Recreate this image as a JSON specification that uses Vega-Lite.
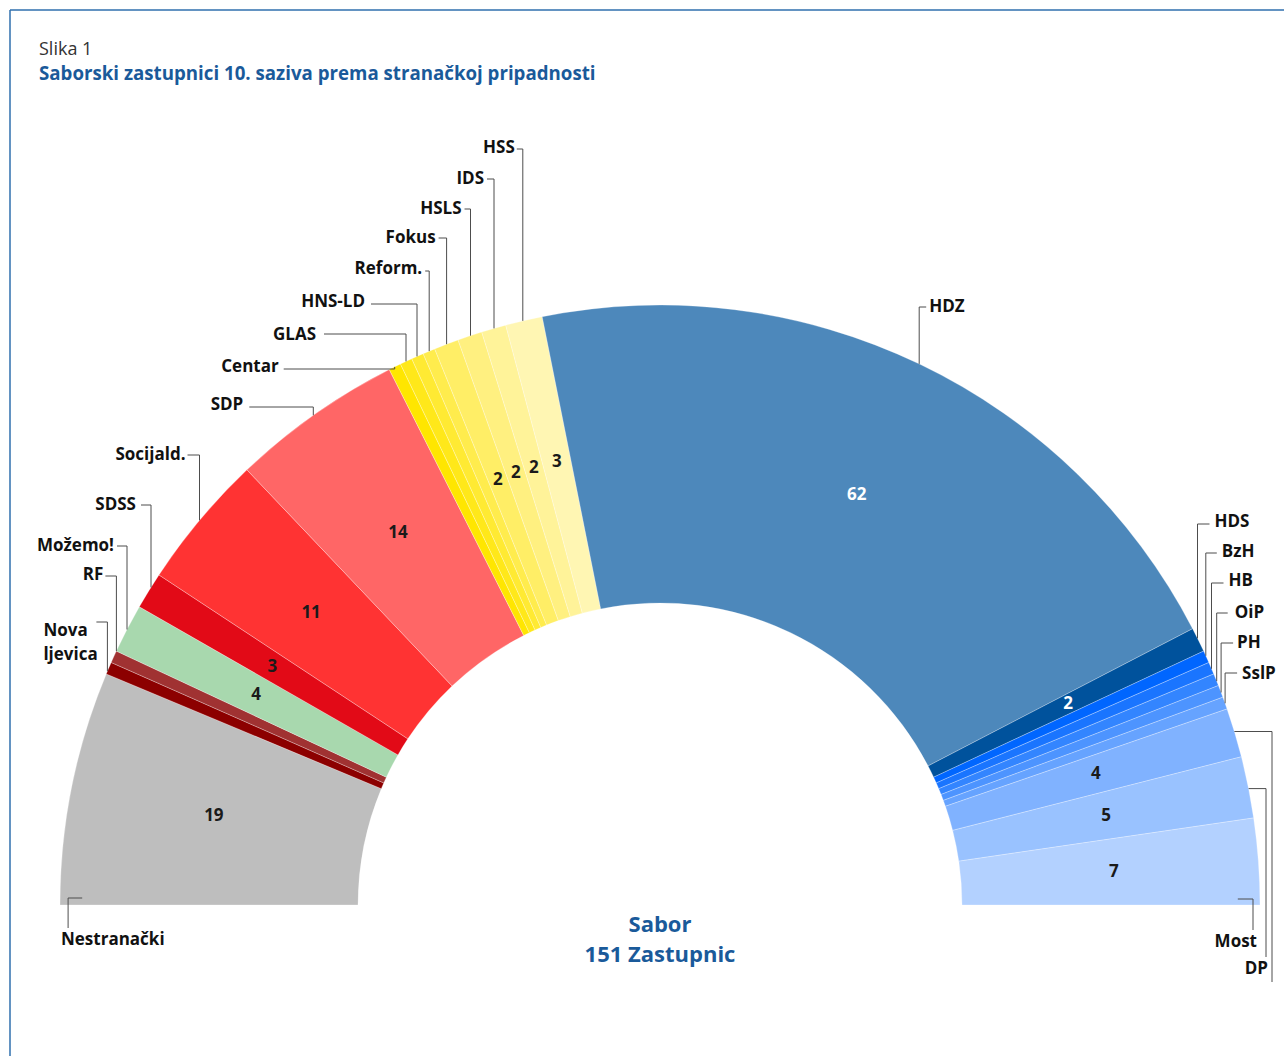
{
  "$schema": "https://vega.github.io/schema/vega-lite/v6.json",
  "width": 1284,
  "height": 1056,
  "autosize": {"type": "none"},
  "padding": 0,
  "background": "white",
  "config": {"view": {"stroke": null}, "font": "Open Sans"},
  "title": {
    "text": "Slika 1",
    "subtitle": "Saborski zastupnici 10. saziva prema stranačkoj pripadnosti",
    "anchor": "start",
    "frame": "group",
    "orient": "top",
    "offset": 0,
    "dx": 39,
    "dy": 84,
    "font": "Open Sans",
    "fontSize": 18,
    "fontWeight": "normal",
    "color": "#333333",
    "subtitleFont": "Open Sans",
    "subtitleFontSize": 18.7,
    "subtitleFontWeight": "bold",
    "subtitleColor": "#1a5a9a",
    "subtitlePadding": 6
  },
  "datasets": {
    "seats": [
      {"idx": 1, "party": "Nestranački", "seats": 19},
      {"idx": 2, "party": "Nova ljevica", "seats": 1},
      {"idx": 3, "party": "RF", "seats": 1},
      {"idx": 4, "party": "Možemo!", "seats": 4},
      {"idx": 5, "party": "SDSS", "seats": 3},
      {"idx": 6, "party": "Socijald.", "seats": 11},
      {"idx": 7, "party": "SDP", "seats": 14},
      {"idx": 8, "party": "Centar", "seats": 1},
      {"idx": 9, "party": "GLAS", "seats": 1},
      {"idx": 10, "party": "HNS-LD", "seats": 1},
      {"idx": 11, "party": "Reform.", "seats": 1},
      {"idx": 12, "party": "Fokus", "seats": 2},
      {"idx": 13, "party": "HSLS", "seats": 2},
      {"idx": 14, "party": "IDS", "seats": 2},
      {"idx": 15, "party": "HSS", "seats": 3},
      {"idx": 16, "party": "HDZ", "seats": 62},
      {"idx": 17, "party": "HDS", "seats": 2},
      {"idx": 18, "party": "BzH", "seats": 1},
      {"idx": 19, "party": "HB", "seats": 1},
      {"idx": 20, "party": "OiP", "seats": 1},
      {"idx": 21, "party": "PH", "seats": 1},
      {"idx": 22, "party": "SslP", "seats": 1},
      {"idx": 23, "party": "Ostali", "seats": 4},
      {"idx": 24, "party": "DP", "seats": 5},
      {"idx": 25, "party": "Most", "seats": 7}
    ],
    "leaders": [
      {"name": "Socijald.", "align": "right", "tx": -474.5, "ty": 450, "x1": -472.5, "y1": 450, "x2": -460.5, "y2": 450, "x3": -460.5, "y3": 384.6},
      {"name": "SDSS", "align": "right", "tx": -524, "ty": 400, "x1": -519, "y1": 400, "x2": -509, "y2": 400, "x3": -509, "y3": 317.6},
      {"name": "Možemo!", "align": "right", "tx": -546, "ty": 359, "x1": -543, "y1": 359, "x2": -533, "y2": 359, "x3": -533, "y3": 275.5},
      {"name": "RF", "align": "right", "tx": -556.6, "ty": 330, "x1": -554.6, "y1": 329, "x2": -543.6, "y2": 329, "x3": -543.6, "y3": 253.9},
      {"name": "Nova\nljevica", "align": "left", "tx": -616.6, "ty": 274, "x1": -563.6, "y1": 283, "x2": -552.6, "y2": 283, "x3": -552.6, "y3": 233.8},
      {"name": "SDP", "align": "right", "tx": -416.7, "ty": 500, "x1": -410.7, "y1": 498, "x2": -346.7, "y2": 498, "x3": -346.7, "y3": 489.7},
      {"name": "Centar", "align": "right", "tx": -381.3, "ty": 538, "x1": -376.3, "y1": 536, "x2": -265.3, "y2": 536, "x3": -265.3, "y3": 538.1},
      {"name": "GLAS", "align": "right", "tx": -344, "ty": 570, "x1": -336, "y1": 571, "x2": -254, "y2": 571, "x3": -254, "y3": 543.6},
      {"name": "HNS-LD", "align": "right", "tx": -295, "ty": 603, "x1": -289, "y1": 601, "x2": -243, "y2": 601, "x3": -243, "y3": 548.6},
      {"name": "Reform.", "align": "right", "tx": -237.8, "ty": 636, "x1": -234.8, "y1": 634, "x2": -230.8, "y2": 634, "x3": -230.8, "y3": 553.9},
      {"name": "Fokus", "align": "right", "tx": -224.4, "ty": 667, "x1": -221.4, "y1": 667, "x2": -213.4, "y2": 667, "x3": -213.4, "y3": 560.8},
      {"name": "HSLS", "align": "right", "tx": -198.5, "ty": 696, "x1": -195.5, "y1": 696, "x2": -189.5, "y2": 696, "x3": -189.5, "y3": 569.3},
      {"name": "IDS", "align": "right", "tx": -176, "ty": 726, "x1": -173, "y1": 726, "x2": -166, "y2": 726, "x3": -166, "y3": 576.6},
      {"name": "HSS", "align": "right", "tx": -145.2, "ty": 757, "x1": -143.2, "y1": 756, "x2": -137.2, "y2": 756, "x3": -137.2, "y3": 584.1},
      {"name": "HDZ", "align": "left", "tx": 269.2, "ty": 598, "x1": 266.2, "y1": 598, "x2": 259.2, "y2": 598, "x3": 259.2, "y3": 541.1},
      {"name": "HDS", "align": "left", "tx": 554.5, "ty": 383, "x1": 549.5, "y1": 381, "x2": 537.5, "y2": 381, "x3": 537.5, "y3": 266.6},
      {"name": "BzH", "align": "left", "tx": 561.8, "ty": 353, "x1": 556.8, "y1": 352, "x2": 545.8, "y2": 352, "x3": 545.8, "y3": 249.2},
      {"name": "HB", "align": "left", "tx": 568.5, "ty": 324, "x1": 563.5, "y1": 322, "x2": 551.5, "y2": 322, "x3": 551.5, "y3": 236.2},
      {"name": "OiP", "align": "left", "tx": 574.7, "ty": 292, "x1": 567.7, "y1": 292, "x2": 556.7, "y2": 292, "x3": 556.7, "y3": 223.8},
      {"name": "PH", "align": "left", "tx": 577.1, "ty": 262, "x1": 573.1, "y1": 262, "x2": 561.1, "y2": 262, "x3": 561.1, "y3": 212.5},
      {"name": "SslP", "align": "left", "tx": 582.1, "ty": 231, "x1": 577.1, "y1": 232, "x2": 565.1, "y2": 232, "x3": 565.1, "y3": 201.7},
      {"name": "", "align": "none", "tx": 612, "ty": -90, "x1": 612, "y1": -77, "x2": 612, "y2": 173.5, "x3": 574.4, "y3": 173.5},
      {"name": "DP", "align": "right", "tx": 608, "ty": -64, "x1": 606, "y1": -52, "x2": 606, "y2": 116.4, "x3": 588.6, "y3": 116.4},
      {"name": "Most", "align": "right", "tx": 597, "ty": -37, "x1": 593, "y1": -25, "x2": 593, "y2": 6, "x3": 577.8, "y3": 6},
      {"name": "Nestranački", "align": "left", "tx": -599, "ty": -35, "x1": -591.9, "y1": -23, "x2": -591.9, "y2": 7, "x3": -577.8, "y3": 7}
    ]
  },
  "layer": [
    {
      "data": {"values": [{}]},
      "mark": {"type": "rule", "color": "#2f6fae", "strokeWidth": 1.5},
      "encoding": {
        "x": {"datum": -650, "type": "quantitative", "scale": {"domain": [-660, 624], "nice": false, "zero": false}, "axis": null},
        "x2": {"datum": 624},
        "y": {"datum": 895, "type": "quantitative", "scale": {"domain": [-151, 905], "nice": false, "zero": false}, "axis": null}
      }
    },
    {
      "data": {"values": [{}]},
      "mark": {"type": "rule", "color": "#2f6fae", "strokeWidth": 1.5},
      "encoding": {
        "x": {"datum": -650, "type": "quantitative", "scale": {"domain": [-660, 624], "nice": false, "zero": false}, "axis": null},
        "y": {"datum": 895, "type": "quantitative", "scale": {"domain": [-151, 905], "nice": false, "zero": false}, "axis": null},
        "y2": {"datum": -151}
      }
    },
    {
      "data": {"name": "seats"},
      "mark": {"type": "arc", "outerRadius": 600, "innerRadius": 302, "x": {"expr": "scale('x', 0)"}, "y": {"expr": "scale('y', 0)"}, "stroke": "#ffffff", "strokeWidth": 0.4, "strokeOpacity": 0.7},
      "encoding": {
        "theta": {"field": "seats", "type": "quantitative", "stack": true, "scale": {"range": [-1.5707963, 1.5707963]}},
        "order": {"field": "idx", "type": "quantitative"},
        "color": {
          "field": "party",
          "type": "nominal",
          "legend": null,
          "scale": {
            "domain": ["Nestranački", "Nova ljevica", "RF", "Možemo!", "SDSS", "Socijald.", "SDP", "Centar", "GLAS", "HNS-LD", "Reform.", "Fokus", "HSLS", "IDS", "HSS", "HDZ", "HDS", "BzH", "HB", "OiP", "PH", "SslP", "Ostali", "DP", "Most"],
            "range": ["#bebebe", "#8c0000", "#a03232", "#a8d8ae", "#e20a17", "#ff3333", "#ff6666", "#ffe600", "#ffe81a", "#ffea33", "#ffec4d", "#ffee66", "#fff080", "#fff399", "#fff6b3", "#4d88bb", "#00529c", "#0066ff", "#1a75ff", "#3385ff", "#4d94ff", "#66a3ff", "#80b2ff", "#99c2ff", "#b3d1ff"]
          }
        }
      }
    },
    {
      "data": {"name": "seats"},
      "mark": {"type": "text", "radius": 455, "x": {"expr": "scale('x', 0)"}, "y": {"expr": "scale('y', 0)"}, "font": "Open Sans", "fontSize": 17, "fontWeight": "bold", "align": "center", "baseline": "middle"},
      "encoding": {
        "theta": {"field": "seats", "type": "quantitative", "stack": true},
        "order": {"field": "idx", "type": "quantitative"},
        "text": {"condition": {"test": "datum.seats >= 2", "field": "seats", "type": "quantitative"}, "value": ""},
        "color": {"condition": {"test": "datum.party === 'HDZ' || datum.party === 'HDS'", "value": "#ffffff"}, "value": "#1a1a1a"}
      }
    },
    {
      "data": {"name": "leaders"},
      "mark": {"type": "rule", "color": "#4d4d4d", "strokeWidth": 1},
      "encoding": {
        "x": {"field": "x1", "type": "quantitative", "scale": {"domain": [-660, 624], "nice": false, "zero": false}, "axis": null},
        "y": {"field": "y1", "type": "quantitative", "scale": {"domain": [-151, 905], "nice": false, "zero": false}, "axis": null},
        "x2": {"field": "x2"},
        "y2": {"field": "y2"}
      }
    },
    {
      "data": {"name": "leaders"},
      "mark": {"type": "rule", "color": "#4d4d4d", "strokeWidth": 1},
      "encoding": {
        "x": {"field": "x2", "type": "quantitative", "scale": {"domain": [-660, 624], "nice": false, "zero": false}, "axis": null},
        "y": {"field": "y2", "type": "quantitative", "scale": {"domain": [-151, 905], "nice": false, "zero": false}, "axis": null},
        "x2": {"field": "x3"},
        "y2": {"field": "y3"}
      }
    },
    {
      "data": {"name": "leaders"},
      "transform": [{"filter": "datum.align === 'right'"}],
      "mark": {"type": "text", "align": "right", "baseline": "middle", "font": "Open Sans", "fontSize": 17, "fontWeight": "bold", "color": "#111111", "lineBreak": "\n", "lineHeight": 24},
      "encoding": {
        "x": {"field": "tx", "type": "quantitative", "scale": {"domain": [-660, 624], "nice": false, "zero": false}, "axis": null},
        "y": {"field": "ty", "type": "quantitative", "scale": {"domain": [-151, 905], "nice": false, "zero": false}, "axis": null},
        "text": {"field": "name"}
      }
    },
    {
      "data": {"name": "leaders"},
      "transform": [{"filter": "datum.align === 'left'"}],
      "mark": {"type": "text", "align": "left", "baseline": "middle", "font": "Open Sans", "fontSize": 17, "fontWeight": "bold", "color": "#111111", "lineBreak": "\n", "lineHeight": 24},
      "encoding": {
        "x": {"field": "tx", "type": "quantitative", "scale": {"domain": [-660, 624], "nice": false, "zero": false}, "axis": null},
        "y": {"field": "ty", "type": "quantitative", "scale": {"domain": [-151, 905], "nice": false, "zero": false}, "axis": null},
        "text": {"field": "name"}
      }
    },
    {
      "data": {"values": [{}]},
      "mark": {"type": "text", "align": "center", "baseline": "middle", "font": "Open Sans", "fontSize": 22, "fontWeight": "bold", "color": "#1a5a9a", "lineHeight": 30},
      "encoding": {
        "x": {"datum": 0, "type": "quantitative", "scale": {"domain": [-660, 624], "nice": false, "zero": false}, "axis": null},
        "y": {"datum": -20, "type": "quantitative", "scale": {"domain": [-151, 905], "nice": false, "zero": false}, "axis": null},
        "text": {"value": ["Sabor", "151 Zastupnic"]}
      }
    }
  ]
}
